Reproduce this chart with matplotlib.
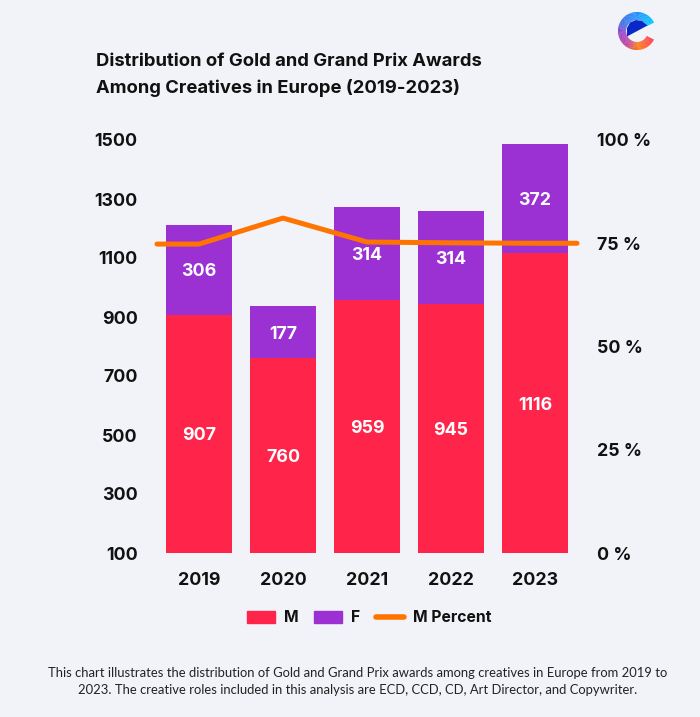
import numpy as np
import matplotlib
matplotlib.use('Agg')
import matplotlib.pyplot as plt
from matplotlib.patches import Wedge, Polygon, Patch
from matplotlib.lines import Line2D

years = ['2019', '2020', '2021', '2022', '2023']
male = [907, 760, 959, 945, 1116]
female = [306, 177, 314, 314, 372]
male_percent = [74.8, 81.1, 75.3, 75.1, 75.0]
left_ticks = [100, 300, 500, 700, 900, 1100, 1300, 1500]
right_ticks = [0, 25, 50, 75, 100]

bg = '#F1F3F8'
red = '#FF2449'
purple = '#9B30D3'
orange = '#FF7400'
dark = '#111111'
bold_font = ['Inter', 'DejaVu Sans']

plt.rcParams['font.family'] = ['Lato', 'DejaVu Sans']

fig = plt.figure(figsize=(7, 7.17), dpi=100, facecolor=bg)
W, H = 700, 717
ax = fig.add_axes([157 / W, 1 - 553 / H, 420 / W, 413 / H], facecolor=bg)

x = np.arange(len(years))
ax.bar(x, male, width=0.785, color=red, zorder=2)
ax.bar(x, female, width=0.785, bottom=male, color=purple, zorder=2)

for i in x:
    ax.text(i, (100 + male[i]) / 2, str(male[i]), color='white', fontsize=12.8, family=bold_font,
            fontweight='bold', ha='center', va='center_baseline', zorder=3)
    ax.text(i, male[i] + female[i] / 2, str(female[i]), color='white', fontsize=12.8, family=bold_font,
            fontweight='bold', ha='center', va='center_baseline', zorder=3)

ax.set_xlim(-0.5, 4.5)
ax.set_ylim(100, 1500)
ax.set_yticks(left_ticks)
ax.set_xticks(x)
ax.set_xticklabels(years)
ax.tick_params(length=0, labelsize=12.8, labelcolor=dark)
ax.tick_params(axis='y', pad=14)
ax.tick_params(axis='x', pad=14)
for lab in ax.get_xticklabels() + ax.get_yticklabels():
    lab.set_fontweight('bold')
    lab.set_family(bold_font)
for s in ax.spines.values():
    s.set_visible(False)

# percent line runs on to the plot edges at both ends
ax2 = ax.twinx()
ax2.set_ylim(0, 100)
ax2.set_yticks(right_ticks)
ax2.set_yticklabels([f'{t} %' for t in right_ticks])
ax2.tick_params(length=0, labelsize=12.8, labelcolor=dark, pad=14.5)
for lab in ax2.get_yticklabels():
    lab.set_fontweight('bold')
    lab.set_family(bold_font)
for s in ax2.spines.values():
    s.set_visible(False)
line_x = [-0.5] + list(x) + [4.5]
line_y = [male_percent[0]] + male_percent + [male_percent[-1]]
ax2.plot(line_x, line_y, color=orange, lw=3.6, solid_capstyle='round',
         solid_joinstyle='round', clip_on=False, zorder=5)

fig.text(96 / W, 1 - 62 / H, 'Distribution of Gold and Grand Prix Awards', fontsize=13.25,
         fontweight='bold', color=dark, va='center', family=bold_font)
fig.text(96 / W, 1 - 88 / H, 'Among Creatives in Europe (2019-2023)', fontsize=13.25,
         fontweight='bold', color=dark, va='center', family=bold_font)

handles = [Patch(color=red, label='M'), Patch(color=purple, label='F'),
           Line2D([0], [0], color=orange, lw=4, solid_capstyle='round', label='M Percent')]
leg = fig.legend(handles=handles, loc='center', bbox_to_anchor=(369 / W, 1 - 618 / H), ncol=3,
                 frameon=False, handlelength=1.8, handleheight=0.75,
                 handletextpad=0.55, columnspacing=1.0,
                 prop={'weight': 'bold', 'size': 11.3, 'family': bold_font})
for t in leg.get_texts():
    t.set_color(dark)

fig.text(358 / W, 1 - 673 / H,
         'This chart illustrates the distribution of Gold and Grand Prix awards among creatives in Europe from 2019 to',
         fontsize=9.4, color='#222222', ha='center', va='center')
fig.text(358 / W, 1 - 690 / H,
         '2023. The creative roles included in this analysis are ECD, CCD, CD, Art Director, and Copywriter.',
         fontsize=9.4, color='#222222', ha='center', va='center')

# logo in the top right corner, drawn in pixel coordinates
logo = fig.add_axes([0, 0, 1, 1], facecolor='none')
logo.set_xlim(0, W)
logo.set_ylim(H, 0)
logo.axis('off')
cx, cy = 637, 31
stops = [(-27, '#00C8FF'), (-90, '#1E90FF'), (-150, '#3A70E8'), (-190, '#9B3FCB'),
         (-235, '#C0409A'), (-275, '#FF7A10'), (-333, '#FF3B50')]
angles = np.array([s[0] for s in stops], dtype=float)
rgb = np.array([matplotlib.colors.to_rgb(s[1]) for s in stops])
# the y axis is flipped here, so positive wedge angles run clockwise on screen
for a in np.arange(-333, -27, 3.0):
    frac = [np.interp(a, angles[::-1], rgb[::-1, k]) for k in range(3)]
    logo.add_patch(Wedge((cx, cy), 19, a, a + 3.6, width=8, color=frac, lw=0))
logo.add_patch(Polygon([[627, 36.5], [627, 28], [630, 22.5], [636, 20], [642, 21], [647.5, 25.5]],
                       closed=True, color='#0A28C8', lw=0))

fig.savefig('out.png', dpi=100, facecolor=bg)
